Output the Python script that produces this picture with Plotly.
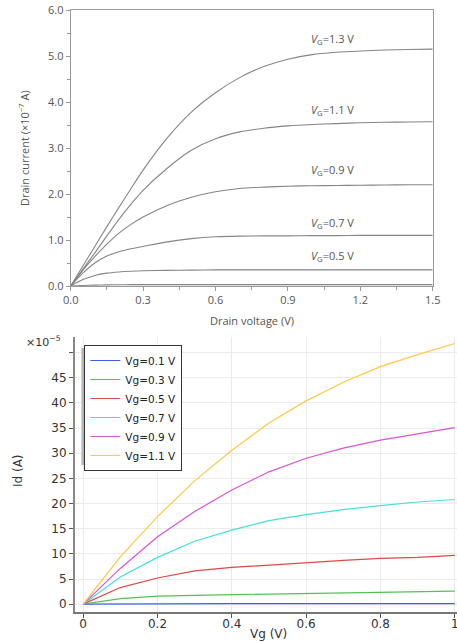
import plotly.graph_objects as go

W, H = 457, 642

# ---------------- Top panel data (drain current, x1e-7 A) ----------------
vd = [0, 0.05, 0.1, 0.15, 0.2, 0.25, 0.3, 0.4, 0.5, 0.6, 0.7, 0.8, 0.9, 1.0, 1.1, 1.2, 1.3, 1.4, 1.5]
id_vg13 = [0, 0.43, 0.86, 1.29, 1.71, 2.12, 2.52, 3.22, 3.78, 4.2, 4.53, 4.77, 4.93, 5.03, 5.08, 5.11, 5.13, 5.14, 5.15]
id_vg11 = [0, 0.36, 0.72, 1.09, 1.45, 1.78, 2.08, 2.56, 2.95, 3.2, 3.35, 3.43, 3.48, 3.51, 3.53, 3.55, 3.56, 3.565, 3.57]
id_vg09 = [0, 0.34, 0.64, 0.91, 1.15, 1.34, 1.5, 1.75, 1.93, 2.05, 2.12, 2.15, 2.17, 2.18, 2.185, 2.19, 2.195, 2.2, 2.2]
id_vg07 = [0, 0.28, 0.5, 0.65, 0.745, 0.81, 0.86, 0.96, 1.03, 1.07, 1.085, 1.09, 1.09, 1.095, 1.095, 1.1, 1.1, 1.1, 1.1]
id_vg05 = [0, 0.14, 0.23, 0.28, 0.305, 0.32, 0.33, 0.34, 0.345, 0.35, 0.35, 0.35, 0.35, 0.35, 0.35, 0.35, 0.35, 0.35, 0.35]
id_vg03 = [0, 0.012, 0.02, 0.025, 0.027, 0.029, 0.03, 0.03, 0.03, 0.03, 0.03, 0.03, 0.03, 0.03, 0.03, 0.03, 0.03, 0.03, 0.03]
top_series = [id_vg13, id_vg11, id_vg09, id_vg07, id_vg05, id_vg03]
top_labels = ["1.3", "1.1", "0.9", "0.7", "0.5"]
top_label_x = [1.085, 1.085, 1.085, 1.085, 1.085]
top_label_y = [5.37, 3.83, 2.52, 1.37, 0.65]
top_xticks = [0, 0.3, 0.6, 0.9, 1.2, 1.5]
top_yticks = [0, 1, 2, 3, 4, 5, 6]

# ---------------- Bottom panel data (Id, x1e-5 A) ----------------
vg = [0, 0.1, 0.2, 0.3, 0.4, 0.5, 0.6, 0.7, 0.8, 0.9, 1.0]
id_01 = [0, 0.05, 0.08, 0.09, 0.1, 0.1, 0.11, 0.11, 0.12, 0.12, 0.12]
id_03 = [0, 1.1, 1.6, 1.8, 1.9, 2.0, 2.1, 2.25, 2.4, 2.5, 2.6]
id_05 = [0, 3.3, 5.2, 6.6, 7.3, 7.8, 8.3, 8.7, 9.1, 9.3, 9.7]
id_07 = [0, 5.4, 9.3, 12.5, 14.7, 16.6, 17.8, 18.8, 19.6, 20.3, 20.8]
id_09 = [0, 7.1, 13.4, 18.4, 22.7, 26.3, 29.0, 31.0, 32.6, 33.9, 35.1]
id_11 = [0, 9.4, 17.4, 24.5, 30.6, 36.0, 40.4, 44.1, 47.2, 49.6, 51.8]
bottom_series = [id_01, id_03, id_05, id_07, id_09, id_11]
bottom_names = ["Vg=0.1 V", "Vg=0.3 V", "Vg=0.5 V", "Vg=0.7 V", "Vg=0.9 V", "Vg=1.1 V"]
bottom_colors = ["#3f5fe8", "#55c155", "#e04848", "#45dede", "#d655d6", "#ffc845"]
bottom_xticks = [0, 0.2, 0.4, 0.6, 0.8, 1.0]
bottom_xticktext = ["0", "0.2", "0.4", "0.6", "0.8", "1"]
bottom_yticks = [0, 5, 10, 15, 20, 25, 30, 35, 40, 45, 50]
bottom_yticktext = ["0", "5", "10", "15", "20", "25", "30", "35", "40", "45", ""]


def px(x):
    return x / W


def py(y):
    return 1 - y / H


fig = go.Figure()

for s in top_series:
    fig.add_trace(go.Scatter(x=vd, y=s, mode="lines",
                             line=dict(color="#858585", width=1.1, shape="spline", smoothing=0.8),
                             showlegend=False, xaxis="x", yaxis="y", hoverinfo="skip"))

for s, n, c in zip(bottom_series, bottom_names, bottom_colors):
    fig.add_trace(go.Scatter(x=vg, y=s, mode="lines", name=n, line=dict(color=c, width=1.2),
                             xaxis="x2", yaxis="y2"))

top_font = dict(family="Open Sans", size=11, color="#555")
bot_font = dict(family="DejaVu Sans", size=12, color="#333")

annotations = []
for lab, lx, ly in zip(top_labels, top_label_x, top_label_y):
    annotations.append(dict(x=lx, y=ly, xref="x", yref="y", showarrow=False,
                            xanchor="center", yanchor="middle",
                            text=f"<i>V</i><sub>G</sub>=" + lab + " V", font=top_font))


def paper_text(x, y, text, font, angle=0):
    return dict(x=px(x), y=py(y), xref="paper", yref="paper", showarrow=False,
                xanchor="center", yanchor="middle", textangle=angle, text=text, font=font)


annotations += [
    paper_text(251.5, 320, "Drain voltage (V)", top_font),
    paper_text(24, 148, "Drain current (×10<sup>−7</sup> A)", top_font, -90),
    paper_text(268, 634, "Vg (V)", bot_font),
    paper_text(18, 471, "Id (A)", bot_font, -90),
    paper_text(43, 342, "×10<sup>−5</sup>", dict(family="DejaVu Sans", size=11, color="#333")),
]

# legend drop shadow (drawn under the legend box)
shapes = [dict(type="rect", xref="paper", yref="paper",
               x0=px(81.5), x1=px(180), y0=py(465), y1=py(348),
               line=dict(width=0), fillcolor="#b4b4b4", layer="above")]

fig.update_layout(
    width=W, height=H,
    margin=dict(l=0, r=0, t=0, b=0, autoexpand=False),
    paper_bgcolor="white", plot_bgcolor="white",
    annotations=annotations,
    shapes=shapes,
    xaxis=dict(domain=[px(70.7), px(432.7)], anchor="y", range=[0, 1.5], automargin=False,
               tickvals=top_xticks, tickformat=".1f", ticks="outside", ticklen=4, tickcolor="#999",
               minor=dict(dtick=0.15, ticks="outside", ticklen=2.5, tickcolor="#999", showgrid=False),
               showline=True, linecolor="#999", linewidth=1, mirror=True,
               showgrid=False, zeroline=False, tickfont=top_font),
    yaxis=dict(domain=[py(286), py(10)], anchor="x", range=[0, 6], automargin=False,
               tickvals=top_yticks, tickformat=".1f", ticks="outside", ticklen=4, tickcolor="#999",
               minor=dict(dtick=0.5, ticks="outside", ticklen=2.5, tickcolor="#999", showgrid=False),
               showline=True, linecolor="#999", linewidth=1, mirror=True,
               showgrid=False, zeroline=False, tickfont=top_font),
    xaxis2=dict(domain=[px(75), 1.0], anchor="y2", range=[-0.022, 1.006], automargin=False,
                tickvals=bottom_xticks, ticktext=bottom_xticktext, ticks="outside", ticklen=4,
                ticklabeloverflow="allow", ticklabelstandoff=-4,
                tickcolor="#555", showline=True, linecolor="#777", linewidth=2,
                showgrid=True, gridcolor="#ebebeb", gridwidth=1, zeroline=False, tickfont=bot_font),
    xaxis3=dict(overlaying="x2", side="top", anchor="y2", range=[-0.022, 1.006], automargin=False,
                tickvals=bottom_xticks, ticks="inside", ticklen=4, tickcolor="#444",
                showticklabels=False, showline=True, linecolor="#3a3a3a", linewidth=1.5,
                showgrid=False, zeroline=False),
    yaxis2=dict(domain=[py(611.7), py(337)], anchor="x2", range=[-1.5, 53.1], automargin=False,
                tickvals=bottom_yticks, ticktext=bottom_yticktext, ticks="outside", ticklen=4,
                tickcolor="#555", showline=True, linecolor="#888", linewidth=2,
                showgrid=True, gridcolor="#ebebeb", gridwidth=1, zeroline=False, tickfont=bot_font),
    legend=dict(x=px(84.3), y=py(345), xanchor="left", yanchor="top",
                bgcolor="white", bordercolor="#333", borderwidth=1,
                font=dict(family="DejaVu Sans", size=10.5, color="#222"), itemwidth=30),
)

fig.write_html("out.html", config={"displayModeBar": False},
               post_script="document.body.style.margin='0';document.body.style.overflow='hidden';")
